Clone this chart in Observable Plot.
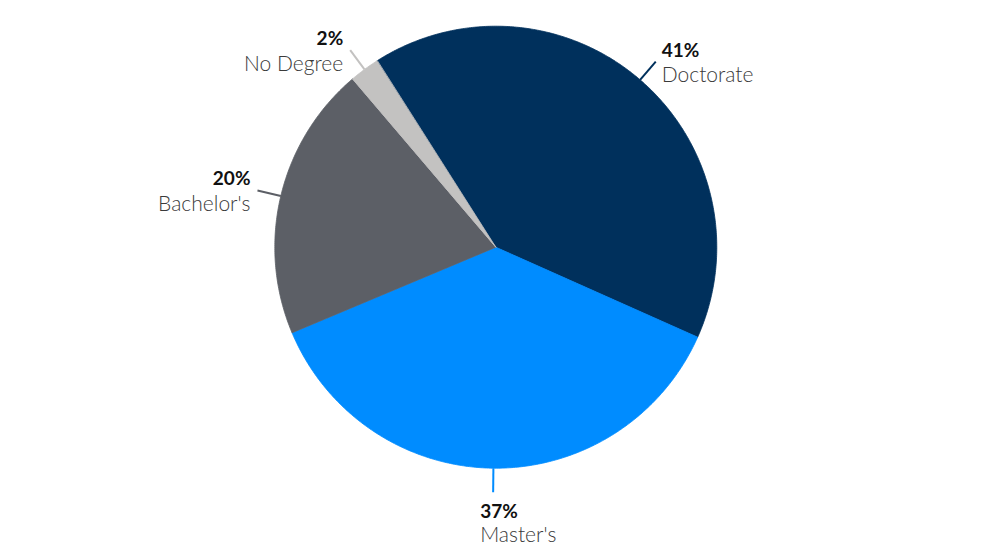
<!DOCTYPE html>
<html>
<head>
<meta charset="utf-8">
<script src="https://cdn.jsdelivr.net/npm/d3@7"></script>
<script src="https://cdn.jsdelivr.net/npm/@observablehq/plot@0.6"></script>
<style>
  html, body { margin: 0; padding: 0; background: #ffffff; }
  #chart { width: 1000px; height: 553px; }
</style>
</head>
<body>
<div id="chart"></div>
<script>
// ---- data ----
const categories = ["Doctorate", "Master's", "Bachelor's", "No Degree"];
const shares = [40.7, 37.0, 20.1, 2.2];
const percentLabels = ["41%", "37%", "20%", "2%"];
const colors = ["#00305C", "#008CFF", "#5C5F66", "#C3C2C1"];

// ---- layout constants ----
const W = 1000, H = 553;
const cx = 495.3, cy = 246.7, R = 221;
const startDeg = -32.5;
const leaderLen = 24;

const pie = d3.pie().sort(null).value(d => d)
  .startAngle(startDeg * Math.PI / 180)
  .endAngle(startDeg * Math.PI / 180 + 2 * Math.PI);
const arcs = pie(shares);

// slice polygons in unit-radius coordinates (y up)
const slicePoints = [];
arcs.forEach((a, i) => {
  slicePoints.push({cat: categories[i], x: 0, y: 0});
  const n = Math.max(4, Math.ceil((a.endAngle - a.startAngle) / (Math.PI / 360)));
  for (let k = 0; k <= n; k++) {
    const t = a.startAngle + (a.endAngle - a.startAngle) * k / n;
    slicePoints.push({cat: categories[i], x: Math.sin(t), y: Math.cos(t)});
  }
});

// leader lines and labels
const rOut = 1 + leaderLen / R;
const labels = arcs.map((a, i) => {
  const m = (a.startAngle + a.endAngle) / 2;
  const s = Math.sin(m), c = Math.cos(m);
  let side;
  if (Math.abs(s) < 0.3 && c < 0) side = "bottom";
  else side = s > 0 ? "right" : "left";
  return {
    cat: categories[i], pct: percentLabels[i], side,
    x1: s, y1: c, x2: s * rOut, y2: c * rOut
  };
});

const fontFamily = "Lato, 'Open Sans', sans-serif";

function labelMarks(side, anchor, dx, dyPct, dyName) {
  const d = labels.filter(l => l.side === side);
  return [
    Plot.text(d, {x: "x2", y: "y2", text: "pct", textAnchor: anchor, lineAnchor: "bottom",
      dx, dy: dyPct, fontSize: 19, fontWeight: 700, fill: "#111111"}),
    Plot.text(d, {x: "x2", y: "y2", text: "cat", textAnchor: anchor, lineAnchor: "bottom",
      dx, dy: dyName, fontSize: 21, fontWeight: 300, fill: "#3a3a3a"})
  ];
}

const chart = Plot.plot({
  width: W, height: H,
  margin: 0,
  style: {fontFamily, background: "#ffffff", overflow: "visible"},
  x: {domain: [-cx / R, (W - cx) / R], range: [0, W], axis: null},
  y: {domain: [(cy - H) / R, cy / R], range: [H, 0], axis: null},
  color: {domain: categories, range: colors},
  marks: [
    Plot.line(slicePoints, {x: "x", y: "y", z: "cat", fill: "cat", stroke: "cat",
      strokeWidth: 0.8, curve: "linear-closed"}),
    Plot.link(labels, {x1: "x1", y1: "y1", x2: "x2", y2: "y2", stroke: "cat", strokeWidth: 2}),
    ...labelMarks("right", "start", 6, -5, 20.5),
    ...labelMarks("left", "end", -7, -5, 20.5),
    ...labelMarks("bottom", "start", -13, 26, 50)
  ]
});
document.getElementById("chart").appendChild(chart);
</script>
</body>
</html>
